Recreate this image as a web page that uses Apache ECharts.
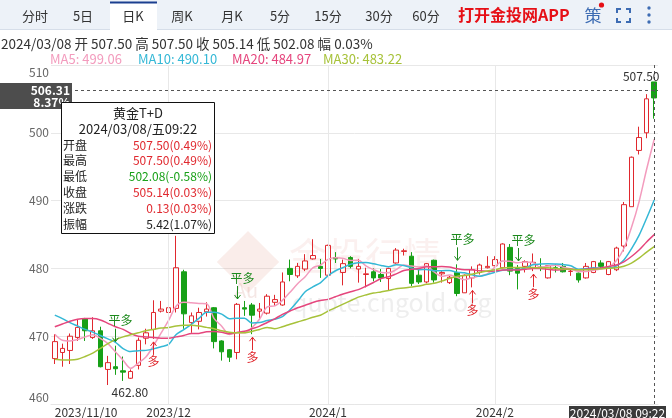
<!DOCTYPE html>
<html><head><meta charset="utf-8">
<script src="https://cdn.jsdelivr.net/npm/echarts@6/dist/echarts.min.js"></script>
<style>html,body{margin:0;padding:0;background:#fff}#c{width:672px;height:418px}</style>
</head><body><div id="c"></div>
<script>
const dates = [
'2023/11/10','2023/11/13','2023/11/14','2023/11/15','2023/11/16','2023/11/17','2023/11/20','2023/11/21','2023/11/22','2023/11/23','2023/11/24','2023/11/27','2023/11/28','2023/11/29','2023/11/30',
'2023/12/01','2023/12/04','2023/12/05','2023/12/06','2023/12/07','2023/12/08','2023/12/11','2023/12/12','2023/12/13','2023/12/14','2023/12/15','2023/12/18','2023/12/19','2023/12/20','2023/12/21','2023/12/22','2023/12/25','2023/12/26','2023/12/27','2023/12/28','2023/12/29',
'2024/01/02','2024/01/03','2024/01/04','2024/01/05','2024/01/08','2024/01/09','2024/01/10','2024/01/11','2024/01/12','2024/01/15','2024/01/16','2024/01/17','2024/01/18','2024/01/19','2024/01/22','2024/01/23','2024/01/24','2024/01/25','2024/01/26','2024/01/29','2024/01/30','2024/01/31',
'2024/02/01','2024/02/02','2024/02/05','2024/02/06','2024/02/07','2024/02/08','2024/02/09','2024/02/19','2024/02/20','2024/02/21','2024/02/22','2024/02/23','2024/02/26','2024/02/27','2024/02/28','2024/02/29','2024/03/01','2024/03/04','2024/03/05','2024/03/06','2024/03/07','2024/03/08'];
const opens = [466.7,467.6,467.9,469.8,472.6,469.8,470.8,465.1,465.5,464.9,463.8,465.7,469.7,471.0,473.7,
473.5,474.1,479.5,472.0,472.2,473.6,474.2,469.3,468.0,467.6,474.2,474.6,473.7,473.4,475.0,474.6,480.0,478.9,479.9,481.4,480.3,
479.0,481.6,479.4,481.6,479.9,479.1,479.5,479.1,478.5,480.8,482.5,481.8,479.0,478.0,481.2,479.2,477.9,479.4,476.4,478.6,479.4,480.1,
480.4,480.1,483.1,480.0,480.3,480.0,480.2,478.6,480.1,480.3,479.55,479.3,478.6,479.4,480.8,479.1,479.8,483.3,489.1,497.4,500.0,507.50];
const closes = [469.2,468.2,470.0,471.3,470.8,470.8,465.5,466.1,465.2,464.7,464.8,469.4,470.5,473.5,474.0,
474.2,480.1,473.3,473.0,473.5,474.0,469.2,467.7,466.9,474.7,474.0,473.1,474.0,475.9,475.4,478.0,479.1,480.3,481.1,481.9,480.0,
483.4,481.4,480.7,480.3,480.3,479.2,478.6,478.6,480.0,482.7,482.6,477.8,478.0,480.7,478.3,479.4,478.7,476.3,479.0,479.8,480.5,480.3,
481.3,483.6,479.6,479.3,481.0,480.9,480.1,480.4,480.0,479.5,479.6,478.3,480.3,481.0,480.3,481.0,483.0,489.4,496.4,499.3,505.01,505.14];
const lows = [465.9,465.5,465.9,469.3,469.3,469.6,465.4,462.8,464.3,463.4,463.7,465.1,468.8,469.6,473.5,
473.2,473.5,471.1,470.5,471.0,472.9,468.2,466.4,466.2,466.6,473.0,470.3,472.6,473.2,474.5,474.5,478.1,478.6,479.6,481.3,478.6,
478.9,480.8,477.5,480.0,477.9,477.2,478.1,478.0,476.8,480.7,481.9,477.4,477.7,477.8,477.9,477.9,477.7,475.9,476.4,477.2,479.1,480.0,
480.3,480.0,479.0,476.9,479.4,479.6,479.6,478.5,479.4,479.4,478.9,477.9,478.5,479.3,480.0,479.0,479.6,482.5,489.1,496.8,499.2,502.08];
const highs = [470.3,468.9,470.4,472.5,472.7,472.8,471.4,467.1,468.6,467.0,465.1,469.8,471.1,475.3,475.2,
475.3,484.8,479.8,473.5,474.2,475.0,474.3,469.4,468.1,474.9,475.2,474.9,474.9,476.2,476.1,479.4,481.3,480.8,482.1,484.3,481.4,
483.5,482.4,481.3,481.8,481.4,480.1,480.0,479.9,480.1,483.0,482.9,482.4,479.9,480.8,481.3,479.6,478.9,480.6,479.1,480.3,480.7,481.8,
481.8,483.7,483.6,480.5,481.2,482.2,481.5,480.5,480.6,480.8,480.0,479.4,480.8,481.1,481.2,481.1,483.2,489.8,496.5,500.9,505.7,507.50];
// MA values for the first days (window not yet full in the shown data)
const ma5Head = [470.3,469.4,469.3,469.5];
const ma10Head = [473.1,472.6,472.0,471.5,471.0,470.6,470.1,469.6,469.1];
const ma20Head = [471.4,471.8,472.2,472.5,472.6,472.6,472.4,471.9,471.4,471.0,470.4,470.0,469.9,469.8,469.7,469.7,469.9,470.1,470.4];
const ma30Head = [466.6,466.5,466.5,466.6,467.0,467.5,468.2,468.9,469.5,469.9,470.2,470.5,470.8,471.0,471.2,471.3,471.5,471.6,471.6,471.5,471.3,471.1,470.8,470.6,470.5,470.5,470.7,471.0,471.3];
const maNames = ['MA5','MA10','MA20','MA30'];
const maLatest = [499.06, 490.10, 484.97, 483.22];
const pingDuoIdx = [8, 24, 53, 61];
const duoIdx = [13, 26, 55, 63];
const monthTicks = ['2023/11/10','2023/12/01','2024/01/02','2024/02/01'];
const yTicks = [460, 470, 480, 490, 500, 510];
const pointerPrice = 506.31;
const pointerPct = '8.37%';
const lastTime = '09:22';
const lastWeekday = '五';
const productName = '黄金T+D';
const tabs = ['分时','5日','日K','周K','月K','5分','15分','30分','60分'];
const appText = '打开金投网APP';

const FONT = "'Microsoft YaHei','Noto Sans CJK SC',sans-serif";
const RED = '#e0282e', GREEN = '#17a017';
const maColors = ['#f39bbd', '#35b8d6', '#e5467d', '#a7c23a'];

function ma(n, head) {
  return closes.map((c, i) => {
    if (i < n - 1) return head[i];
    let s = 0; for (let k = i - n + 1; k <= i; k++) s += closes[k];
    return +(s / n).toFixed(2);
  });
}
const maData = [ma(5, ma5Head), ma(10, ma10Head), ma(20, ma20Head), ma(30, ma30Head)];
const ohlc = dates.map((d, i) => [opens[i], closes[i], lows[i], highs[i]]);
const last = dates.length - 1;
const prevClose = closes[last - 1];
const pct = v => ((v - prevClose) / prevClose * 100).toFixed(2) + '%';
let minIdx = 0, maxIdx = 0;
lows.forEach((v, i) => { if (v < lows[minIdx]) minIdx = i; });
highs.forEach((v, i) => { if (v >= highs[maxIdx]) maxIdx = i; });

const signals = pingDuoIdx.map(i => [i, 1, highs[i]]).concat(duoIdx.map(i => [i, 0, lows[i]]));

const chart = echarts.init(document.getElementById('c'), null, {renderer: 'canvas', width: 672, height: 418});

// ---------- header graphics ----------
const tabCenters = [35, 83, 133, 182, 232, 280, 328, 379, 426];
const g = [];
g.push({type: 'rect', z: 50, shape: {x: 0, y: 0, width: 672, height: 30}, style: {fill: '#edf2f8'}});
g.push({type: 'line', z: 50, shape: {x1: 0, y1: 29.5, x2: 672, y2: 29.5}, style: {stroke: '#d6dee9', lineWidth: 1}});
g.push({type: 'rect', z: 51, shape: {x: 110, y: 2, width: 47, height: 28}, style: {fill: '#fff'}});
g.push({type: 'rect', z: 52, shape: {x: 110, y: 1.5, width: 47, height: 2}, style: {fill: '#1b3f8f'}});
tabs.forEach((t, i) => g.push({type: 'text', z: 53, x: tabCenters[i], y: 16,
  style: {text: t, font: '13px ' + FONT, fill: '#333', align: 'center', verticalAlign: 'middle'}}));
g.push({type: 'text', z: 53, x: 458, y: 15, style: {text: appText, font: 'bold 16px ' + FONT, fill: '#e60f16', align: 'left', verticalAlign: 'middle'}});
g.push({type: 'text', z: 53, x: 593, y: 16, style: {text: '策', font: '17px ' + FONT, fill: '#3d6cb3', align: 'center', verticalAlign: 'middle'}});
g.push({type: 'circle', z: 54, shape: {cx: 601.5, cy: 5, r: 2.6}, style: {fill: '#e60f16'}});
const fx0 = 617, fx1 = 630, fy0 = 9, fy1 = 22;
[[[fx0, fy0 + 4], [fx0, fy0], [fx0 + 4, fy0]], [[fx1 - 4, fy0], [fx1, fy0], [fx1, fy0 + 4]],
 [[fx0, fy1 - 4], [fx0, fy1], [fx0 + 4, fy1]], [[fx1 - 4, fy1], [fx1, fy1], [fx1, fy1 - 4]]].forEach(p =>
  g.push({type: 'polyline', z: 53, shape: {points: p}, style: {stroke: '#3d6cb3', lineWidth: 2, fill: null}}));
[8, 15, 22].forEach(y => g.push({type: 'circle', z: 53, shape: {cx: 649, cy: y, r: 1.7}, style: {fill: '#3d6cb3'}}));

const infoText = dates[last] + ' 开 ' + opens[last].toFixed(2) + ' 高 ' + highs[last].toFixed(2) +
  ' 收 ' + closes[last].toFixed(2) + ' 低 ' + lows[last].toFixed(2) + ' 幅 ' + pct(closes[last]);
g.push({type: 'text', z: 53, x: 1, y: 44, style: {text: infoText, font: '13.5px ' + FONT, fill: '#333', align: 'left', verticalAlign: 'middle'}});
const maX = [50, 138, 232, 323];
maNames.forEach((n, i) => g.push({type: 'text', z: 53, x: maX[i], y: 59,
  style: {text: n + ': ' + maLatest[i].toFixed(2), font: '13px ' + FONT, fill: maColors[i], align: 'left', verticalAlign: 'middle'}}));

// watermark
g.push({type: 'rect', z: 1, x: 248, y: 262, rotation: Math.PI / 4, shape: {x: -22, y: -22, width: 44, height: 44},
  style: {fill: 'rgba(226,140,125,0.16)'}});
g.push({type: 'text', z: 1, x: 246, y: 290, style: {text: 'Au', font: '20px ' + FONT, fill: 'rgba(200,120,110,0.18)', align: 'center', verticalAlign: 'middle'}});
g.push({type: 'text', z: 1, x: 365, y: 256, style: {text: '金投行情', font: '38px ' + FONT, fill: 'rgba(220,130,120,0.12)', align: 'center', verticalAlign: 'middle'}});
g.push({type: 'text', z: 1, x: 292, y: 302, style: {text: 'quote.cngold.org', font: '25px ' + FONT, fill: 'rgba(160,160,160,0.18)', align: 'left', verticalAlign: 'middle'}});

const option = {
  animation: false,
  backgroundColor: '#fff',
  grid: {left: 51, right: 14, top: 65, bottom: 13},
  xAxis: {
    type: 'category', data: dates, boundaryGap: true,
    axisLine: {show: true, lineStyle: {color: '#e6e6e6'}},
    axisTick: {show: false}, splitLine: {show: false},
    axisLabel: {
      interval: (i, v) => monthTicks.includes(v), margin: 2,
      color: '#333', fontSize: 12, fontFamily: FONT,
      alignMinLabel: 'left',
      formatter: (v, i) => {
        if (i === 0) return v;
        const p = v.split('/'); return p[0] + '/' + parseInt(p[1], 10);
      }
    }
  },
  yAxis: {
    type: 'value', min: yTicks[0], max: yTicks[yTicks.length - 1], interval: 10, scale: true,
    axisLine: {show: false}, axisTick: {show: false},
    splitLine: {lineStyle: {color: '#e8e8e8'}},
    axisLabel: {
      color: '#666', fontSize: 12, fontFamily: FONT, margin: 2,
      formatter: v => v === yTicks[yTicks.length - 1] ? '{t|' + v + '}' : (v === yTicks[0] ? '{b|' + v + '}' : String(v)),
      rich: {t: {padding: [15, 0, 0, 0], color: '#666', fontSize: 12, fontFamily: FONT},
             b: {padding: [0, 0, 14, 0], color: '#666', fontSize: 12, fontFamily: FONT}}
    }
  },
  series: [
    {
      type: 'line', z: 1, data: [], silent: true,
      markLine: {
        silent: true, symbol: ['none', 'none'], label: {show: false}, animation: false,
        data: monthTicks.slice(1).map(d => ({xAxis: d, lineStyle: {color: '#e8e8e8', type: 'solid', width: 1}}))
      }
    },
    {
      type: 'candlestick', z: 2, data: ohlc, barWidth: 5,
      itemStyle: {color: 'rgba(255,255,255,0)', color0: GREEN, borderColor: RED, borderColor0: GREEN, borderWidth: 1},
      markPoint: {
        symbol: 'circle', symbolSize: 0, silent: true, animation: false,
        data: [
          {coord: [minIdx, lows[minIdx]], value: lows[minIdx],
           label: {show: true, position: 'bottom', distance: 1, offset: [22, 0], formatter: lows[minIdx].toFixed(2), color: '#333', fontSize: 12, fontFamily: FONT}},
          {coord: [maxIdx, highs[maxIdx]], value: highs[maxIdx],
           label: {show: true, position: 'top', distance: 0, offset: [-13, 0], formatter: highs[maxIdx].toFixed(2), color: '#333', fontSize: 12, fontFamily: FONT}}
        ]
      }
    }
  ].concat(maData.map((d, i) => ({
    type: 'line', name: maNames[i], data: d, z: 3, showSymbol: false, smooth: 0.3, silent: true,
    lineStyle: {color: maColors[i], width: 1.5}
  }))).concat([
    {
      type: 'custom', z: 5, data: signals, silent: true,
      renderItem: (params, api) => {
        const idx = api.value(0), kind = api.value(1), price = api.value(2);
        const pt = api.coord([idx, price]);
        const x = Math.round(pt[0]) + 0.5;
        if (kind === 1) {
          const tip = pt[1] - 4, c = '#1d8a1d';
          return {type: 'group', children: [
            {type: 'line', shape: {x1: x, y1: tip - 13, x2: x, y2: tip}, style: {stroke: c, lineWidth: 1}},
            {type: 'polyline', shape: {points: [[x - 3, tip - 4], [x, tip], [x + 3, tip - 4]]}, style: {stroke: c, lineWidth: 1, fill: null}},
            {type: 'text', x: x + 5, y: tip - 21, style: {text: '平多', font: '12px ' + FONT, fill: c, align: 'center', verticalAlign: 'middle'}}
          ]};
        } else {
          const tip = pt[1] + 3, c = RED;
          return {type: 'group', children: [
            {type: 'line', shape: {x1: x, y1: tip, x2: x, y2: tip + 13}, style: {stroke: c, lineWidth: 1}},
            {type: 'polyline', shape: {points: [[x - 3, tip + 4], [x, tip], [x + 3, tip + 4]]}, style: {stroke: c, lineWidth: 1, fill: null}},
            {type: 'text', x: x, y: tip + 20, style: {text: '多', font: '12px ' + FONT, fill: c, align: 'center', verticalAlign: 'middle'}}
          ]};
        }
      }
    },
    {
      type: 'line', z: 6, data: [], silent: true,
      markLine: {
        silent: true, symbol: ['none', 'none'], label: {show: false}, animation: false,
        lineStyle: {color: '#555', type: [3, 3], width: 1},
        data: [{yAxis: pointerPrice}, {xAxis: dates[last]}]
      }
    }
  ]),
  graphic: {elements: g}
};
chart.setOption(option);

// overlay: pointer labels and info box, positioned through the chart's own scales
const pY = chart.convertToPixel({gridIndex: 0}, [last, pointerPrice]);
const ov = [];
ov.push({type: 'rect', z: 90, shape: {x: 0, y: pY[1] - 7, width: 72, height: 26}, style: {fill: '#4d4d4d'}});
ov.push({type: 'text', z: 91, x: 70, y: pY[1], style: {text: pointerPrice.toFixed(2), font: 'bold 12px ' + FONT, fill: '#fff', align: 'right', verticalAlign: 'middle'}});
ov.push({type: 'text', z: 91, x: 70, y: pY[1] + 12, style: {text: pointerPct, font: 'bold 12px ' + FONT, fill: '#fff', align: 'right', verticalAlign: 'middle'}});
const xLabel = dates[last] + ' ' + lastTime;
const boxW = 97;
const bx = Math.min(pY[0] - boxW / 2, 666 - boxW);
ov.push({type: 'rect', z: 90, shape: {x: bx, y: 406, width: boxW, height: 14}, style: {fill: '#3a3a3a'}});
ov.push({type: 'text', z: 91, x: bx + boxW / 2, y: 413, style: {text: xLabel, font: '12px ' + FONT, fill: '#fff', align: 'center', verticalAlign: 'middle'}});

// info box
const bL = 61.5, bT = 102.5, bWd = 153, bH = 131;
ov.push({type: 'rect', z: 95, shape: {x: bL, y: bT, width: bWd, height: bH}, style: {fill: '#fff', stroke: '#111', lineWidth: 1}});
ov.push({type: 'text', z: 96, x: bL + bWd / 2, y: 113, style: {text: productName, font: '13px ' + FONT, fill: '#222', align: 'center', verticalAlign: 'middle'}});
ov.push({type: 'text', z: 96, x: bL + bWd / 2, y: 129, style: {text: dates[last] + '/' + lastWeekday + lastTime, font: '13px ' + FONT, fill: '#222', align: 'center', verticalAlign: 'middle'}});
const colorOf = v => v > prevClose ? RED : (v < prevClose ? GREEN : '#222');
const rows = [
  ['开盘', opens[last].toFixed(2) + '(' + pct(opens[last]) + ')', colorOf(opens[last])],
  ['最高', highs[last].toFixed(2) + '(' + pct(highs[last]) + ')', colorOf(highs[last])],
  ['最低', lows[last].toFixed(2) + '(' + pct(lows[last]) + ')', colorOf(lows[last])],
  ['收盘', closes[last].toFixed(2) + '(' + pct(closes[last]) + ')', colorOf(closes[last])],
  ['涨跌', (closes[last] - prevClose).toFixed(2) + '(' + pct(closes[last]) + ')', colorOf(closes[last])],
  ['振幅', (highs[last] - lows[last]).toFixed(2) + '(' + ((highs[last] - lows[last]) / prevClose * 100).toFixed(2) + '%)', '#222']
];
rows.forEach((r, i) => {
  const y = 145 + i * 15.9;
  ov.push({type: 'text', z: 96, x: 63, y: y, style: {text: r[0], font: '12px ' + FONT, fill: '#222', align: 'left', verticalAlign: 'middle'}});
  ov.push({type: 'text', z: 96, x: 212, y: y, style: {text: r[1], font: '12px ' + FONT, fill: r[2], align: 'right', verticalAlign: 'middle'}});
});
chart.setOption({graphic: {elements: g.concat(ov)}});
</script>
</body></html>
